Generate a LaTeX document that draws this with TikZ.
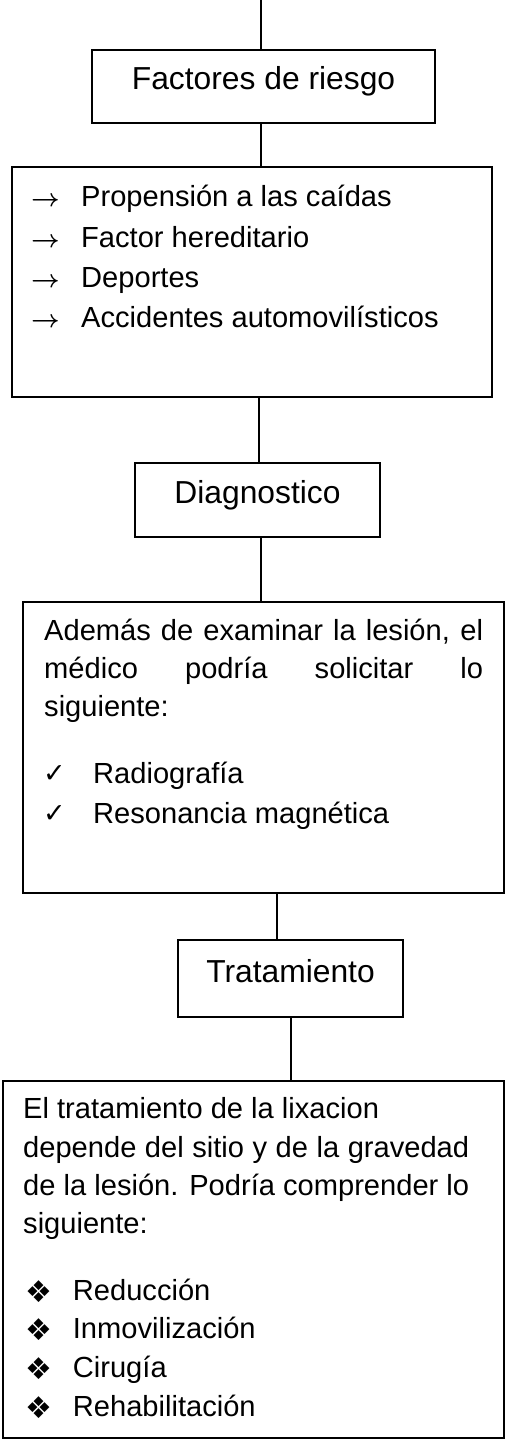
\documentclass[tikz,border=0pt]{standalone}
\usepackage{fontspec}
\setmainfont{Liberation Sans}
\newfontfamily\dingfont{DejaVu Sans}
\usetikzlibrary{positioning}

\begin{document}
\begin{tikzpicture}[x=1pt, y=-1pt,
box/.style={rectangle, draw, line width=1.3pt, inner sep=0pt},
ttl/.style={anchor=base, inner sep=0pt, font=\fontsize{31.8}{38}\selectfont},
txt/.style={anchor=base west, inner sep=0pt, font=\fontsize{29.1}{38}\selectfont},
bul/.style={anchor=base west, inner sep=0pt},
link/.style={line width=1.3pt}]
\useasboundingbox (0,0) rectangle (506,1447);
\node[box, minimum width=343pt, minimum height=73pt] (fac) at (263.5,86.5) {};
\node[box, minimum width=480pt, minimum height=230pt] (lst) at (252,282) {};
\node[box, minimum width=245pt, minimum height=74pt] (dia) at (257.5,500) {};
\node[box, minimum width=481pt, minimum height=291pt] (exa) at (263.5,747.5) {};
\node[box, minimum width=225pt, minimum height=77pt] (tra) at (290.5,978.5) {};
\node[box, minimum width=501pt, minimum height=357pt] (opc) at (253.5,1259.5) {};
\node[ttl] (facT) at ([yshift=-3.5pt]fac.center) {Factores de riesgo};
\node[ttl] (diaT) at ([yshift=-3pt]dia.center) {Diagnostico};
\node[ttl] (traT) at ([yshift=-3.8pt]tra.center) {Tratamiento};
\coordinate (top) at (261,0);
\draw[link] (top) -- (top |- fac.north);
\draw[link] (fac.south -| top) -- (lst.north -| top);
\draw[link] (lst.south -| 259,0) -- (dia.north -| 259,0);
\draw[link] (dia.south -| 261,0) -- (exa.north -| 261,0);
\draw[link] (exa.south -| 277,0) -- (tra.north -| 277,0);
\draw[link] (tra.south -| 291,0) -- (opc.north -| 291,0);
\foreach \t [count=\i] in {Propensión a las caídas, Factor hereditario, Deportes, Accidentes automovilísticos} {
  \node[bul, font=\fontsize{30}{38}\selectfont\boldmath] (facB\i) at (31,{207+40.3*(\i-1)}) {$\rightarrow$};
  \node[txt] (facL\i) at (81,{207+40.3*(\i-1)}) {\t};
}
\node[txt] (exaP1) at (44,640) {\makebox[439pt][s]{Además de examinar la lesión, el}};
\node[txt] (exaP2) at (44,678) {\makebox[439pt][s]{médico podría solicitar lo}};
\node[txt] (exaP3) at (44,716.5) {siguiente:};
\foreach \t [count=\i] in {Radiografía, Resonancia magnética} {
  \node[bul, font=\dingfont\fontsize{27}{30}\selectfont] (exaB\i) at (43,{782+40*(\i-1)}) {✓};
  \node[txt] (exaL\i) at (93,{783+40*(\i-1)}) {\t};
}
\node[txt] (opcP1) at (23,1118) {El tratamiento de la lixacion};
\node[txt] (opcP2) at (23,1157) {\makebox[446pt][s]{depende del sitio y de la gravedad}};
\node[txt] (opcP3) at (23,1195) {\makebox[446pt][s]{de la lesión. Podría comprender lo}};
\node[txt] (opcP4) at (23,1233) {siguiente:};
\foreach \t [count=\i] in {Reducción, Inmovilización, Cirugía, Rehabilitación} {
  \node[bul, font=\dingfont\fontsize{30}{36}\selectfont] (opcB\i) at (25,{1302+38.7*(\i-1)}) {❖};
  \node[txt] (opcL\i) at (72.7,{1300+38.7*(\i-1)}) {\t};
}
\end{tikzpicture}
\end{document}
